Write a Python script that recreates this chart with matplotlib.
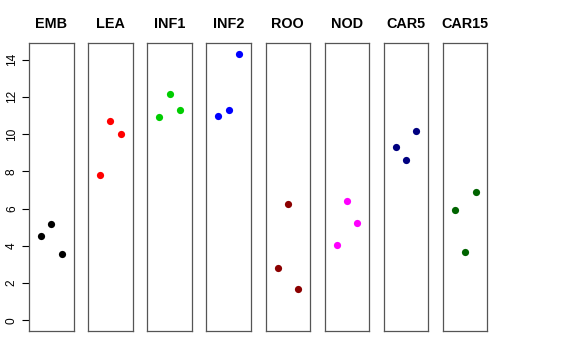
import matplotlib
matplotlib.use("Agg")
import matplotlib.pyplot as plt

plt.rcParams['font.family'] = ['Liberation Sans', 'DejaVu Sans']

# tissue groups, three replicate values each
groups = ['EMB', 'LEA', 'INF1', 'INF2', 'ROO', 'NOD', 'CAR5', 'CAR15']
values = [
    [4.54, 5.19, 3.57],
    [7.82, 10.68, 10.0],
    [10.89, 12.14, 11.28],
    [10.98, 11.28, 14.30],
    [2.81, 6.23, 1.70],
    [4.04, 6.41, 5.25],
    [9.30, 8.59, 10.18],
    [5.93, 3.68, 6.88],
]
colours = ['black', 'red', '#00CD00', 'blue', '#8B0000', 'magenta', '#000080', '#006400']
yticks = [0, 2, 4, 6, 8, 10, 12, 14]

W, H = 576, 360
fig = plt.figure(figsize=(W / 100, H / 100), dpi=100)

# panel geometry in pixels
left0, step, pw = 29, 59.14, 44.5
bottom, top = 29, 316.7

ymax = max(max(v) for v in values)
pad = 0.04 * ymax

for i, (name, vals, col) in enumerate(zip(groups, values, colours)):
    ax = fig.add_axes([(left0 + step * i) / W, bottom / H, pw / W, (top - bottom) / H])
    xs = list(range(1, len(vals) + 1))
    ax.scatter(xs, vals, s=27, color=col, zorder=3, linewidths=0)
    ax.set_xlim(-0.16, 4.16)
    ax.set_ylim(-pad, ymax + pad)
    ax.set_xticks([])
    ax.set_title(name, fontsize=10.4, fontweight='bold', pad=11)
    for sp in ax.spines.values():
        sp.set_color('#555555')
        sp.set_linewidth(0.9)
    if i == 0:
        ax.set_yticks(yticks)
        ax.set_yticklabels([str(t) for t in yticks], rotation=90, va='center', fontsize=8.6)
        ax.tick_params(axis='y', length=5, width=0.8, pad=3)
    else:
        ax.set_yticks([])

fig.savefig('out.png', dpi=100)
